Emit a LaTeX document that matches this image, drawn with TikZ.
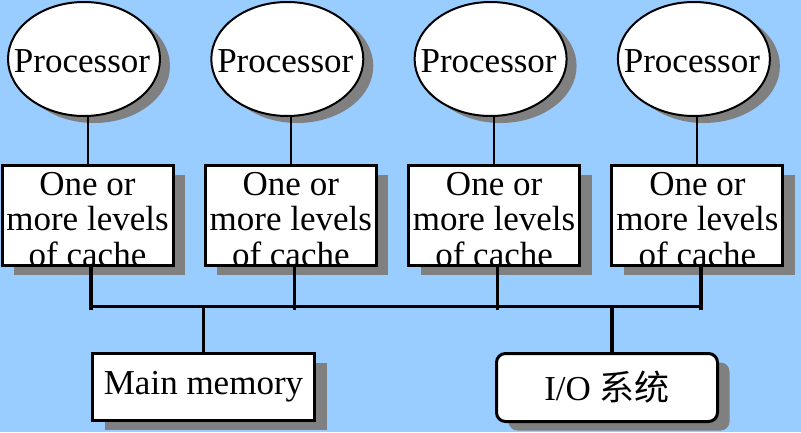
\documentclass[tikz,border=0pt]{standalone}
\usepackage{fontspec}
\setmainfont{Liberation Serif}
\newfontfamily\cjkfont{Noto Sans CJK SC}
\usetikzlibrary{shapes.geometric,shadows,calc}
\definecolor{bgblue}{HTML}{99CCFF}
\definecolor{shadowgray}{HTML}{808080}
\begin{document}
\begin{tikzpicture}[x=1pt,y=-1pt,
  txt/.style={font=\fontsize{35}{36}\selectfont, text=black},
  myshadow/.style={drop shadow={shadow xshift=#1, shadow yshift=-9pt, fill=shadowgray, opacity=1}},
  proc/.style={ellipse, draw, line width=2pt, fill=white, minimum width=152pt, minimum height=114pt, inner sep=0pt,
     drop shadow={shadow xshift=10pt, shadow yshift=-7pt, fill=shadowgray, opacity=1}},
  proctext/.style={txt, inner sep=0pt},
  cachebox/.style={rectangle, draw, line width=3pt, fill=white, minimum width=171pt, minimum height=100pt, inner sep=0pt,
     myshadow=12pt,
     path picture={
       \node[txt, anchor=base] at ([yshift=-29.5pt]path picture bounding box.north) {One or};
       \node[txt, anchor=base] at ([yshift=-64.5pt]path picture bounding box.north) {more levels};
       \node[txt, anchor=base] at ([yshift=-100.5pt]path picture bounding box.north) {of cache};
     }},
  membox/.style={rectangle, draw, line width=3pt, fill=white, minimum width=222pt, minimum height=67pt, inner sep=0pt, txt, myshadow=12pt},
  iobox/.style={rectangle, rounded corners=9pt, draw, line width=3pt, fill=white, minimum width=221pt, minimum height=68pt, inner sep=0pt, txt, myshadow=12pt},
  thinline/.style={line width=2pt},
  busline/.style={line width=3.5pt}
]
\useasboundingbox (0,0) rectangle (801,432);
\fill[bgblue] (0,0) rectangle (801,432);

% processors
\foreach \i/\x in {1/84,2/287.3,3/490.6,4/693.9} {
  \node[proc] (p\i) at (\x,59) {};
  \node[proctext, anchor=base] (pt\i) at (\x-2,72) {Processor};
}

% caches
\node[cachebox] (c1) at (87.5,215.5) {};
\node[cachebox] (c2) at (290.8,215.5) {};
\node[cachebox] (c3) at (494.1,215.5) {};
\node[cachebox] (c4) at (697.4,215.5) {};

% memory and I/O
\node[membox] (mem) at (203.5,387) {Main memory};
\node[iobox] (io) at (607,387.5) {I/O {\cjkfont 系统}};

% processor to cache
\foreach \i in {1,2,3,4} {
  \draw[thinline] (c\i.north) -- (c\i.north |- p\i.south);
}

% bus
\coordinate (busL) at ($(c1.south)+(3.5,39.5)$);
\coordinate (busR) at ($(c4.south)+(3.5,39.5)$);
\foreach \i in {1,2,3,4} {
  \coordinate (d\i) at ($(c\i.south)+(3.5,0)$);
  \draw[busline] (d\i) -- ($(d\i |- busL)+(0,3)$);
}
\draw[busline] (busL) -- (busR);
\draw[busline] (mem.north) -- (mem.north |- busL);
\coordinate (iotop) at ($(io.north)+(5,0)$);
\draw[busline] (iotop) -- (iotop |- busL);
\end{tikzpicture}
\end{document}
